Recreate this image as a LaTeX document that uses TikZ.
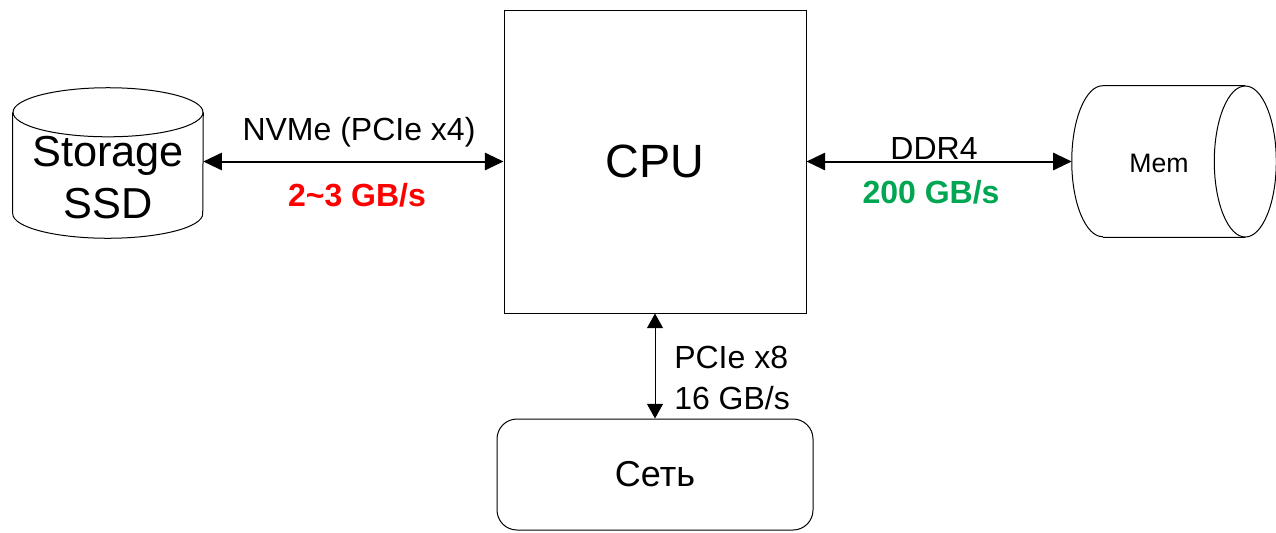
\documentclass[tikz,border=0pt]{standalone}
\usepackage{fontspec}
\setmainfont{Liberation Sans}
\usetikzlibrary{arrows.meta,positioning}
\definecolor{bwgreen}{RGB}{0,166,81}
\tikzset{%
  unit/.style={rectangle,draw=black,line width=0.75pt,font=\fontsize{35}{40}\selectfont},
  store/.style={rectangle,inner sep=0pt},
  link/.style={line width=1.5pt,{Triangle[length=14pt,width=13pt]}-{Triangle[length=14pt,width=13pt]}},
  thinlink/.style={line width=0.75pt,{Triangle[length=11pt,width=12pt]}-{Triangle[length=11pt,width=12pt]}},
  lbl/.style={font=\fontsize{24}{28}\selectfont,inner sep=0pt},
  rate/.style={font=\fontsize{24}{28}\selectfont\bfseries,inner sep=0pt}%
}

\begin{document}
\begin{tikzpicture}[x=0.75pt,y=-0.75pt]
    \useasboundingbox (0,0) rectangle (1276,532);

    \node (cpu) [unit,minimum width=226.5pt,minimum height=227.25pt] at (655,161.5) {CPU};
    \node (net) [unit,rounded corners=15pt,minimum width=237pt,minimum height=83.25pt,font=\fontsize{27}{32}\selectfont] at (655,474.5) {Сеть};
    \node (ssd) [store,minimum width=142.5pt,minimum height=112.5pt] at (108,163) {};
    \node (ssdtext) [lbl,align=center,font=\fontsize{32.5}{39}\selectfont] at (108,178) {Storage\\SSD};
    \node (mem) [store,minimum width=153pt,minimum height=113.25pt] at (1174,161.5) {};
    \node (memtext) [lbl,font=\fontsize{20}{24}\selectfont] at (1159,163) {Mem};

    % storage cylinder
    \draw[line width=0.75pt] ([yshift=-18.4pt]ssd.north west) -- ([yshift=18.4pt]ssd.south west)
        arc[start angle=180,end angle=360,x radius=71.25pt,y radius=18.4pt]
        -- ([yshift=-18.4pt]ssd.north east);
    \draw[line width=0.75pt] ([yshift=-18.4pt]ssd.north) ellipse[x radius=71.25pt,y radius=18.4pt];

    % memory cylinder
    \draw[line width=0.75pt] ([xshift=23.25pt]mem.south west) -- ([xshift=-23.25pt]mem.south east)
        ([xshift=-23.25pt]mem.north east) -- ([xshift=23.25pt]mem.north west)
        arc[start angle=90,end angle=270,x radius=23.25pt,y radius=56.625pt];
    \draw[line width=0.75pt] ([xshift=-23.25pt]mem.east) ellipse[x radius=23.25pt,y radius=56.625pt];

    \draw[link] (cpu.west -| ssd.east) -- (cpu.west);
    \draw[link] (cpu.east) -- (mem.west);
    \draw[thinlink] (cpu.south) -- (net.north);

    \node (nvme) [lbl] at (359,132) {NVMe (PCIe x4)};
    \node (nvmerate) [rate,text=red] at (357,195) {2\textasciitilde3 GB/s};
    \node (ddr) [lbl] at (934,148) {DDR4};
    \node (ddrrate) [rate,text=bwgreen] at (931,192) {200 GB/s};
    \node (pcie) [lbl,anchor=west,align=left,font=\fontsize{24}{31}\selectfont] at (674,378) {PCIe x8\\16 GB/s};

\end{tikzpicture}
\end{document}
